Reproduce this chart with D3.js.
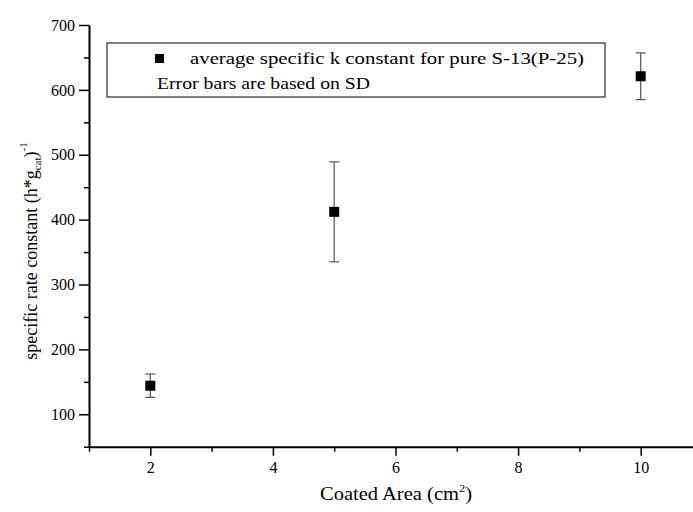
<!DOCTYPE html>
<html>
<head>
<meta charset="utf-8">
<script src="https://cdn.jsdelivr.net/npm/d3@7"></script>
<style>
  body { margin: 0; background: #fff; }
</style>
</head>
<body>
<div id="chart"></div>
<script>
// Data
const areas = [2, 5, 10];
const kValues = [144, 412, 621];
const kSD = [18, 77, 36];

const xTicks = [2, 4, 6, 8, 10];
const xMinor = [1, 3, 5, 7, 9, 11];
const yTicks = [100, 200, 300, 400, 500, 600, 700];
const yMinor = [50, 150, 250, 350, 450, 550, 650];

const serif = "'Liberation Serif', 'Times New Roman', serif";

const width = 693;
const height = 512;
const margin = { top: 25, right: -9, bottom: 65, left: 89 };

const svg = d3.select("#chart")
    .append("svg")
    .attr("width", width)
    .attr("height", height);

const x = d3.scaleLinear()
    .domain([1, 11])
    .range([margin.left, width - margin.right]);

const y = d3.scaleLinear()
    .domain([50, 700])
    .range([height - margin.bottom - 0.3, margin.top]);

// Axes
svg.append("g")
    .attr("transform", `translate(0,${y(50)})`)
    .call(d3.axisBottom(x).tickValues(xTicks).tickSize(9).tickSizeOuter(0).tickPadding(6));

svg.append("g")
    .attr("transform", `translate(0,${y(50)})`)
    .call(d3.axisBottom(x).tickValues(xMinor).tickSize(5).tickSizeOuter(0).tickFormat(""))
    .select(".domain").remove();

svg.append("g")
    .attr("transform", `translate(${x(1)},0)`)
    .call(d3.axisLeft(y).tickValues(yTicks).tickSize(10).tickSizeOuter(0).tickPadding(4));

svg.append("g")
    .attr("transform", `translate(${x(1)},0)`)
    .call(d3.axisLeft(y).tickValues(yMinor).tickSize(5).tickSizeOuter(0).tickFormat(""))
    .select(".domain").remove();

svg.selectAll(".domain").attr("stroke", "#000").attr("stroke-width", 2);
svg.selectAll(".tick line").attr("stroke", "#000").attr("stroke-width", 1.5);
svg.selectAll(".tick text")
    .attr("fill", "#000")
    .style("font-family", serif)
    .style("font-size", "16px");

// Error bars
const errG = svg.append("g");
areas.forEach((a, i) => {
    const cx = x(a);
    const lo = y(kValues[i] - kSD[i]);
    const hi = y(kValues[i] + kSD[i]);
    errG.append("line")
        .attr("x1", cx).attr("x2", cx)
        .attr("y1", lo).attr("y2", hi)
        .attr("stroke", "#555").attr("stroke-width", 1.2);
    [lo, hi].forEach(yy => {
        errG.append("line")
            .attr("x1", cx - 5).attr("x2", cx + 5)
            .attr("y1", yy).attr("y2", yy)
            .attr("stroke", "#555").attr("stroke-width", 1.2);
    });
});

// Markers
const ms = 10;
svg.append("g")
    .selectAll("rect")
    .data(areas)
    .join("rect")
    .attr("x", d => x(d) - ms / 2)
    .attr("y", (d, i) => y(kValues[i]) - ms / 2)
    .attr("width", ms)
    .attr("height", ms)
    .attr("fill", "#000");

// Legend
const legend = svg.append("g").attr("transform", "translate(107,43)");
legend.append("rect")
    .attr("width", 498)
    .attr("height", 54)
    .attr("fill", "#fff")
    .attr("stroke", "#000")
    .attr("stroke-width", 1);
legend.append("rect")
    .attr("x", 48).attr("y", 11)
    .attr("width", 9).attr("height", 9)
    .attr("fill", "#000");
legend.append("text")
    .attr("x", 83).attr("y", 21)
    .attr("textLength", 394)
    .attr("lengthAdjust", "spacingAndGlyphs")
    .style("font-family", serif)
    .style("font-size", "17px")
    .text("average specific k constant for pure S-13(P-25)");
legend.append("text")
    .attr("x", 50).attr("y", 46)
    .attr("textLength", 213)
    .attr("lengthAdjust", "spacingAndGlyphs")
    .style("font-family", serif)
    .style("font-size", "17px")
    .text("Error bars are based on SD");

// X axis label
const xl = svg.append("text")
    .attr("transform", "translate(396,500) scale(1.14,1)")
    .attr("text-anchor", "middle")
    .style("font-family", serif)
    .style("font-size", "18px");
xl.append("tspan").text("Coated Area (cm");
xl.append("tspan").attr("dy", -8).style("font-size", "11px").text("2");
xl.append("tspan").attr("dy", 8).text(")");

// Y axis label
const yl = svg.append("text")
    .attr("transform", "translate(37,251) rotate(-90)")
    .attr("text-anchor", "middle")
    .style("font-family", serif)
    .style("font-size", "18px");
yl.append("tspan").text("specific rate constant (h*g");
yl.append("tspan").attr("dy", 4).style("font-size", "11px").text("cat");
yl.append("tspan").attr("dy", -4).text(")");
yl.append("tspan").attr("dy", -10).style("font-size", "11px").text("-1");
</script>
</body>
</html>
